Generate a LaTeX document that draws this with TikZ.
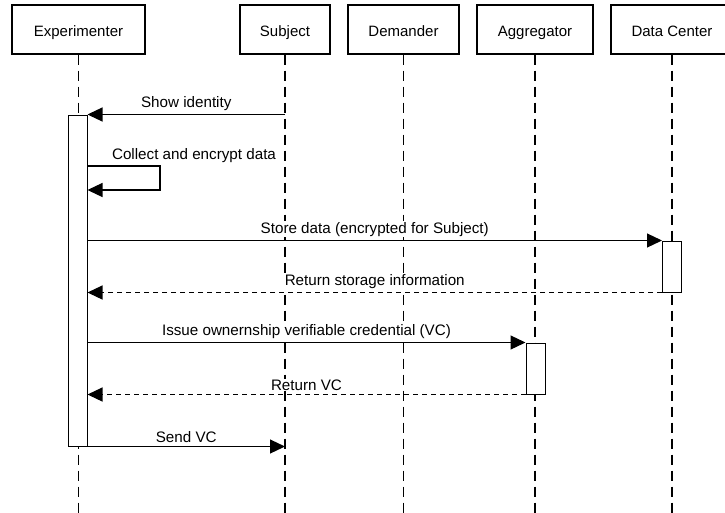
\documentclass[tikz,border=0pt]{standalone}
\usepackage{fontspec}
\setmainfont{Liberation Sans}
\usetikzlibrary{arrows.meta}
\begin{document}
\begin{tikzpicture}[x=1pt,y=-1pt,
  actor/.style={draw, line width=2pt, fill=white, minimum height=49pt, inner sep=0pt, text height=17pt, text depth=3pt, font=\fontsize{15}{17}\selectfont},
  life/.style={line width=1.1pt, dash pattern=on 10pt off 6pt},
  act/.style={draw, line width=1pt, fill=white, minimum width=19pt, inner sep=0pt},
  msg/.style={line width=1.2pt, -{Triangle[length=15pt,width=14pt]}},
  ret/.style={msg, dash pattern=on 5pt off 4pt},
  lbl/.style={font=\fontsize{15.2}{17}\selectfont, anchor=south, fill=white, inner sep=1pt, yshift=2.5pt}]
\useasboundingbox (0,0) rectangle (725,512);
% actors
\node[actor, minimum width=133pt] (exp) at (78.5,29) {Experimenter};
\node[actor, minimum width=90pt] (subj) at (285,29) {Subject};
\node[actor, minimum width=111pt] (dem) at (403.5,29) {Demander};
\node[actor, minimum width=116pt] (agg) at (535,29) {Aggregator};
\node[actor, minimum width=122pt] (dc) at (672,29) {Data Center};
% lifelines
\foreach \n in {exp,subj,dem,agg,dc}
  \draw[life] (\n.south) -- (\n.south |- 0,515);
% activations
\node[act, minimum height=331pt] (ea) at (77.5,280.5) {};
\node[act, minimum height=51pt] (da) at (672,266.5) {};
\node[act, minimum height=51pt] (aa) at (535.5,368.5) {};
% messages
\draw[msg] (ea.north east -| subj) -- node[lbl] {Show identity} (ea.north east);
\coordinate (s1) at (160,166);
\coordinate (s2) at (160,190);
\draw[msg] (ea.east |- s1) -- (s1) -- (s2) -- (ea.east |- s2);
\node[lbl] (sl) at (194,166) {Collect and encrypt data};
\draw[msg] (ea.east |- da.north) -- node[lbl] {Store data (encrypted for Subject)} (da.north west);
\draw[ret] (da.south west) -- node[lbl] {Return storage information} (ea.east |- da.south);
\draw[msg] (ea.east |- aa.north) -- node[lbl] {Issue ownernship verifiable credential (VC)} (aa.north west);
\draw[ret] (aa.south west) -- node[lbl] {Return VC} (ea.east |- aa.south);
\draw[msg] (ea.south east) -- node[lbl] {Send VC} (ea.south east -| subj);
\end{tikzpicture}
\end{document}
